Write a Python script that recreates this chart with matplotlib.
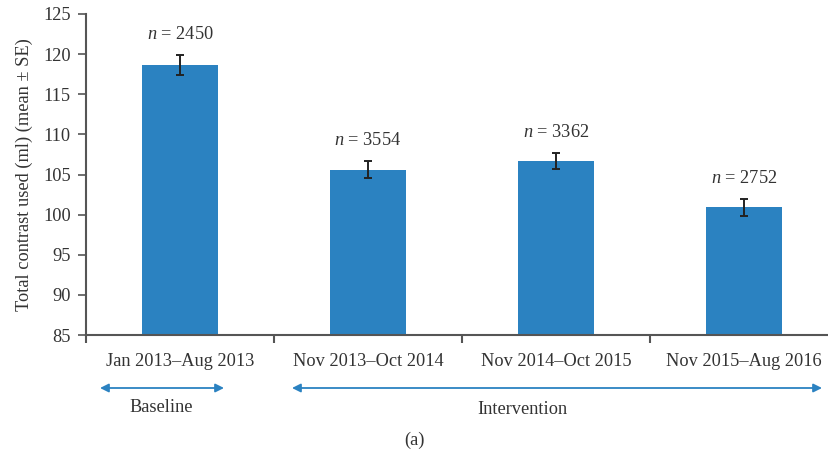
import matplotlib
matplotlib.use('Agg')
import matplotlib.pyplot as plt
import numpy as np

periods = ['Jan 2013\u2013Aug 2013', 'Nov 2013\u2013Oct 2014',
           'Nov 2014\u2013Oct 2015', 'Nov 2015\u2013Aug 2016']
mean_contrast = [118.6, 105.6, 106.7, 100.9]
se_contrast = [1.25, 1.05, 1.0, 1.05]
n_patients = [2450, 3554, 3362, 2752]

BAR_COLOR = '#2b82c1'
TEXT_COLOR = '#333333'
AXIS_COLOR = '#555555'
FS = 13.2

plt.rcParams['font.family'] = ['Liberation Serif', 'DejaVu Serif']
plt.rcParams['mathtext.fontset'] = 'custom'
plt.rcParams['mathtext.it'] = 'Liberation Serif:italic'
plt.rcParams['mathtext.rm'] = 'Liberation Serif'

fig = plt.figure(figsize=(8.29, 4.58), dpi=100)
W, H = 829, 458
# axes spans px 86..838 horizontally, 14..335 vertically
ax = fig.add_axes([86 / W, 1 - 335 / H, (838 - 86) / W, (335 - 14) / H])

x = np.arange(len(periods))
ax.bar(x, np.array(mean_contrast) - 85, bottom=85, width=0.4, color=BAR_COLOR,
       yerr=se_contrast, error_kw=dict(ecolor='#222222', elinewidth=1.4, capsize=3.2, capthick=1.4))

for xi, m, se, n in zip(x, mean_contrast, se_contrast, n_patients):
    ax.text(xi, m + se + 1.5, r'$n$ = %d' % n, ha='center', va='bottom',
            fontsize=FS, color=TEXT_COLOR)

ax.set_xlim(-0.5, len(periods) - 0.5)
ax.set_ylim(85, 125)
ax.set_yticks(np.arange(85, 126, 5))
ax.set_xticks(np.arange(len(periods) + 1) - 0.5)
ax.set_xticklabels([])
ax.set_xticks(x, minor=True)
ax.set_xticklabels(periods, minor=True)
ax.tick_params(axis='x', which='minor', length=0, pad=13, labelsize=FS, labelcolor=TEXT_COLOR)
ax.tick_params(axis='x', which='major', length=6, direction='out', color=AXIS_COLOR, width=1.5)
ax.tick_params(axis='y', length=6, direction='out', color=AXIS_COLOR, width=1.2,
               labelsize=FS, labelcolor=TEXT_COLOR, pad=5)

for side in ['top', 'right']:
    ax.spines[side].set_visible(False)
for side in ['left', 'bottom']:
    ax.spines[side].set_color(AXIS_COLOR)
    ax.spines[side].set_linewidth(1.5)

ax.set_ylabel('Total contrast used (ml) (mean \u00b1 SE)', fontsize=FS, color=TEXT_COLOR, labelpad=7)


def fig_arrow(x0, x1, y):
    fig.add_artist(matplotlib.patches.FancyArrowPatch(
        (x0 / W, 1 - y / H), (x1 / W, 1 - y / H), transform=fig.transFigure,
        arrowstyle='<|-|>,head_length=5,head_width=2.5', color=BAR_COLOR, lw=1.3,
        mutation_scale=1, shrinkA=0, shrinkB=0))


fig_arrow(100, 224, 388)
fig_arrow(292, 822, 388)
fig.text(161 / W, 1 - 408 / H, 'Baseline', ha='center', va='center', fontsize=FS, color=TEXT_COLOR)
fig.text(522 / W, 1 - 409 / H, 'Intervention', ha='center', va='center', fontsize=FS, color=TEXT_COLOR)
fig.text(414 / W, 1 - 440 / H, '(a)', ha='center', va='center', fontsize=FS, color=TEXT_COLOR)

fig.savefig('out.png', dpi=100)
